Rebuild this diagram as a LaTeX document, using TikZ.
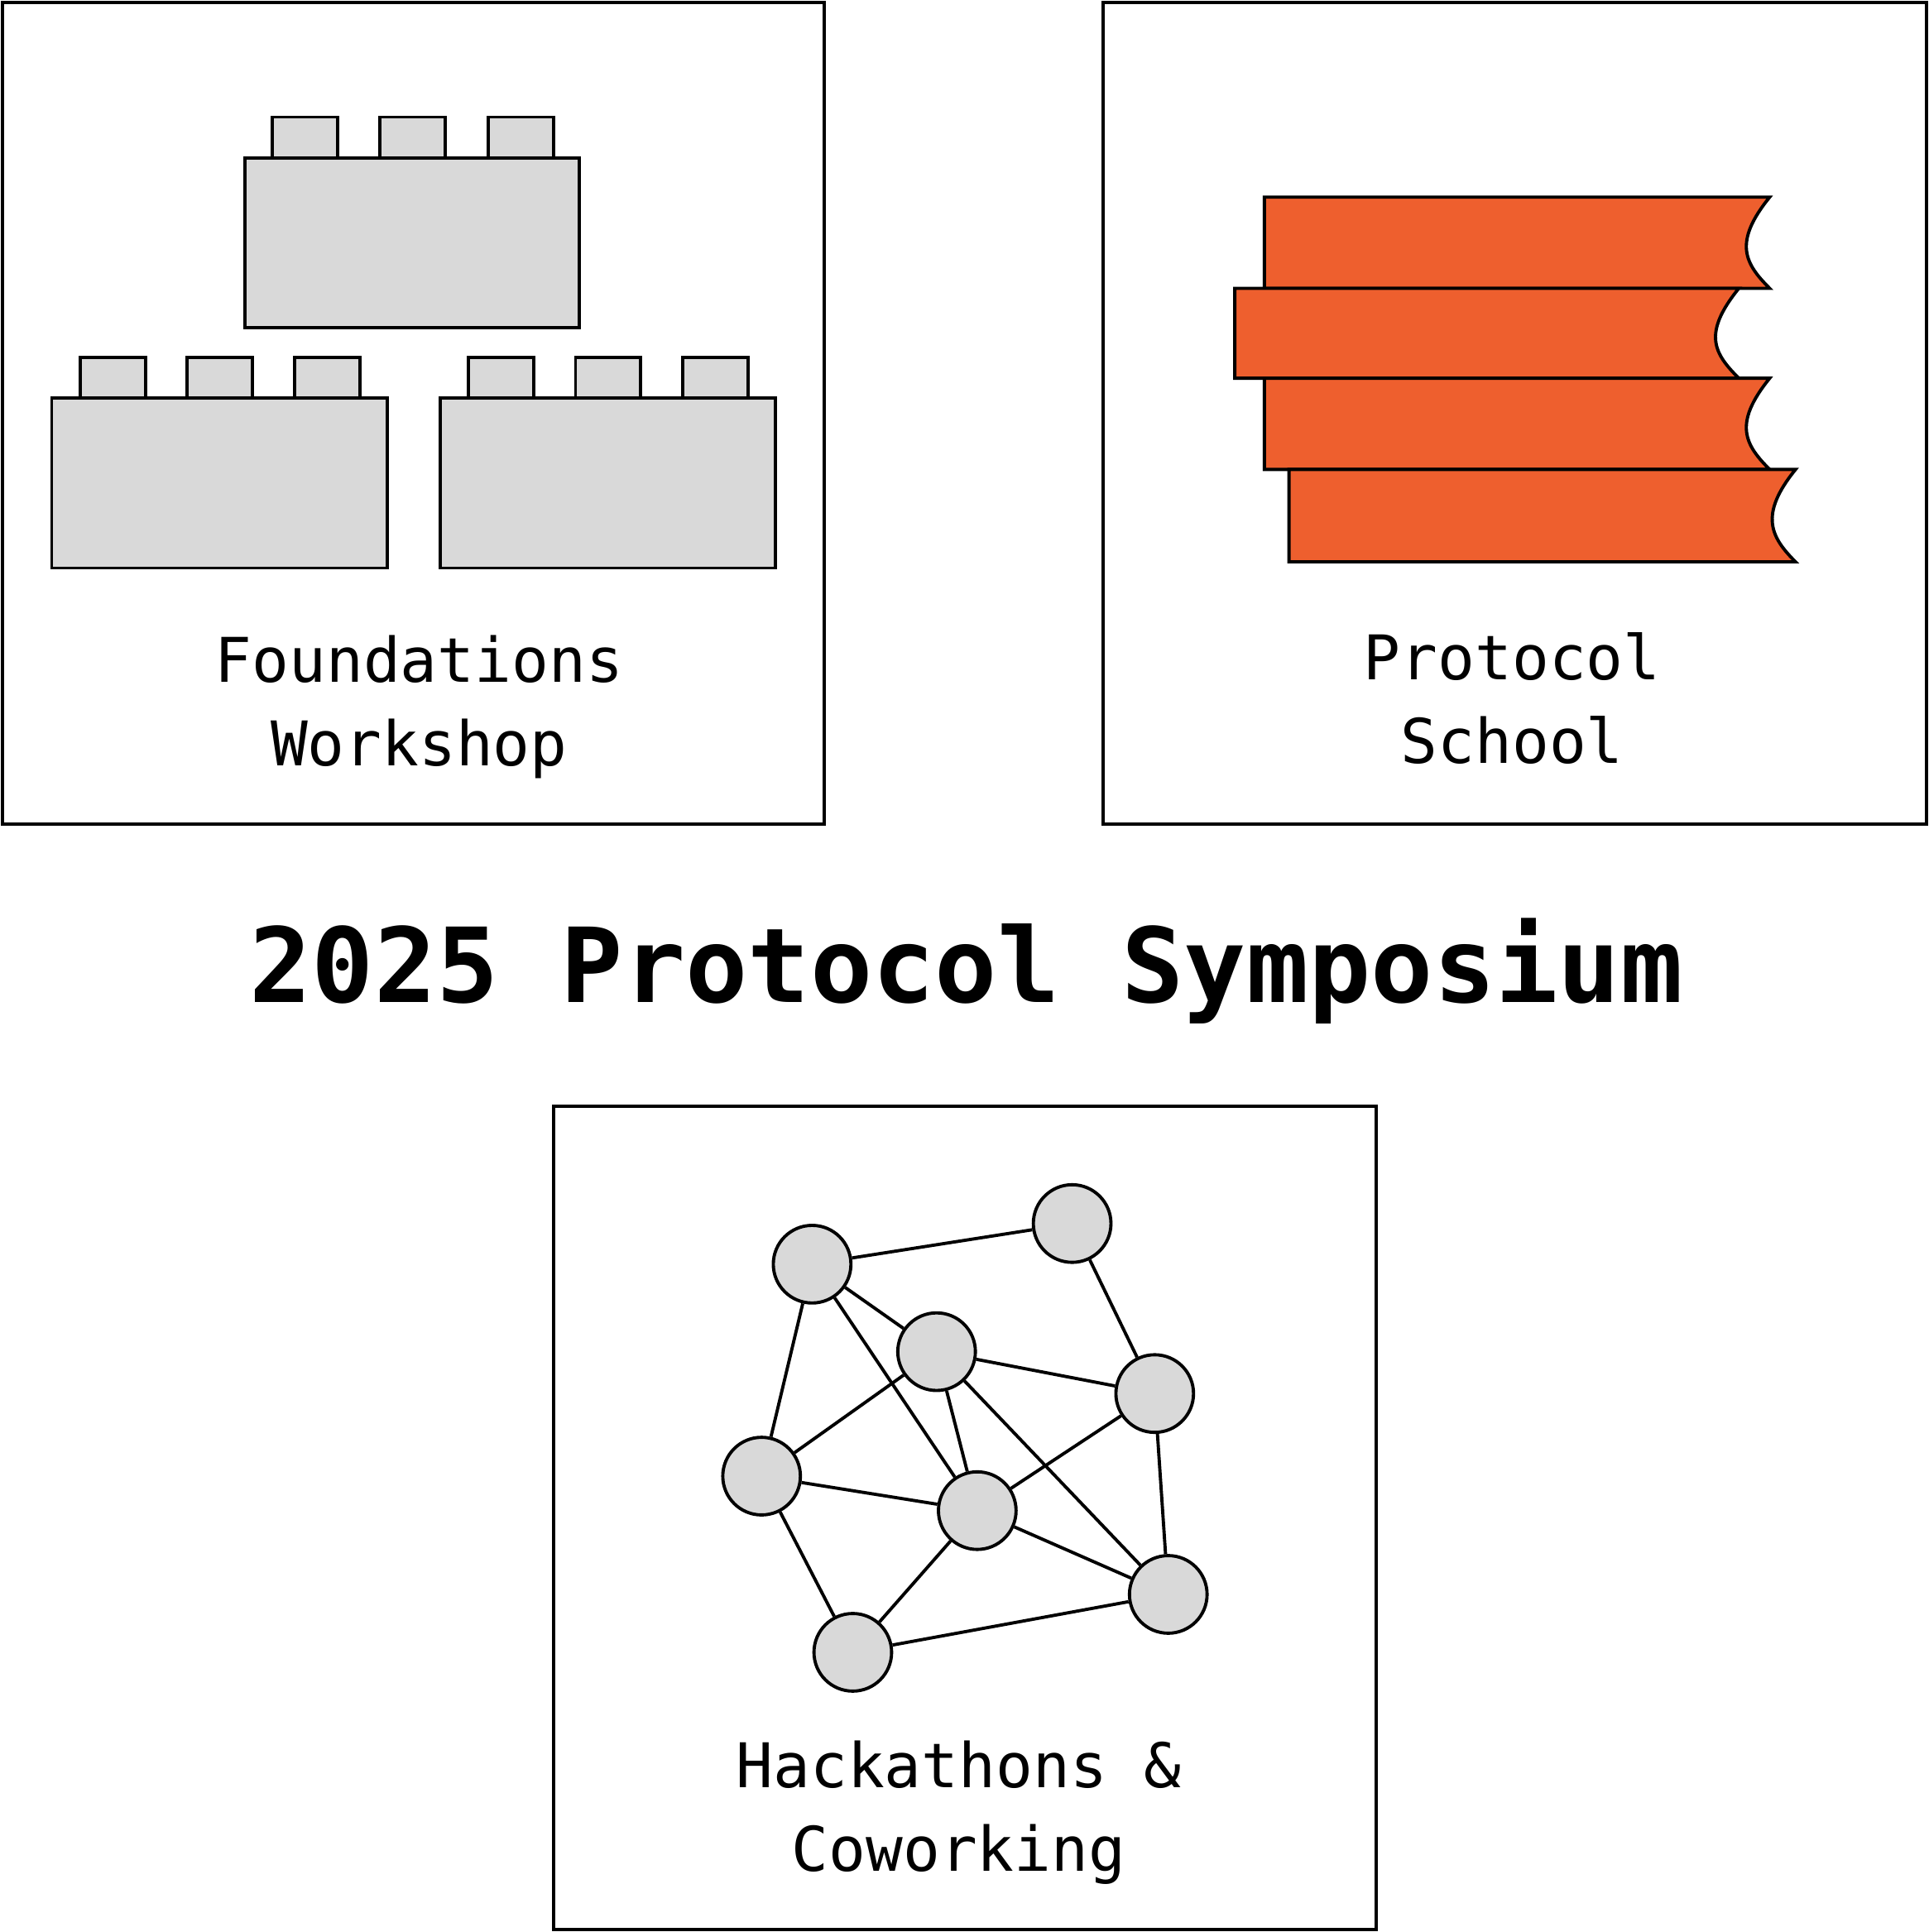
\documentclass[tikz,border=0pt]{standalone}
\usepackage{fontspec}
\setmonofont{DejaVu Sans Mono}
\definecolor{brick}{HTML}{D9D9D9}
\definecolor{book}{HTML}{EE5F2E}
\begin{document}
\begin{tikzpicture}[x=1pt,y=-1pt,line width=2.6pt,
  frame/.style={draw,black},
  piece/.style={draw,fill=brick},
  bk/.style={draw,fill=book,line join=miter},
  gn/.style={circle,draw,fill=brick,minimum size=63pt,inner sep=0pt},
  lbl/.style={font=\ttfamily\fontsize{50}{68}\selectfont,align=center},
  ttl/.style={font=\ttfamily\bfseries\fontsize{84}{90}\selectfont}]
\useasboundingbox (0,0) rectangle (1565,1568);
\draw[frame] (2,2) rectangle (669,669);
\draw[frame] (895,2) rectangle (1563,669);
\draw[frame] (449,898) rectangle (1117,1566);
% lego
\foreach \x in {221,308,396} \draw[piece] (\x,95) rectangle ++(53,33);
\draw[piece] (199,128) rectangle (470,266);
\foreach \x in {65,152,239,380,467,554} \draw[piece] (\x,290) rectangle ++(53,33);
\draw[piece] (42,323) rectangle (314,461);
\draw[piece] (357,323) rectangle (629,461);
\node[lbl] (fw) at (340,574) {Foundations\\Workshop};
% books
\foreach \l/\r/\t/\b in {1026/1436/160/234, 1002/1411/234/307, 1026/1436/307/381, 1046/1457/381/456}
  \draw[bk] (\l,\t) -- (\r,\t) .. controls (\r-30,\t+37) and (\r-20,\b-20) .. (\r,\b) -- (\l,\b) -- cycle;
\node[lbl] (ps) at (1227,567) {Protocol\\School};
\node[ttl] (title) at (784,788) {2025 Protocol Symposium};
% graph
\node[gn] (A) at (659,1026) {};
\node[gn] (B) at (870,993) {};
\node[gn] (C) at (760,1097) {};
\node[gn] (D) at (937,1131) {};
\node[gn] (E) at (618,1198) {};
\node[gn] (F) at (793,1226) {};
\node[gn] (G) at (948,1294) {};
\node[gn] (H) at (692,1341) {};
\foreach \a/\b in {A/B,A/C,A/F,A/E,B/D,C/D,C/E,C/F,C/G,D/F,D/G,E/F,E/H,F/G,F/H,H/G}
  \draw (\a) -- (\b);
\node[lbl] (hc) at (778,1471) {Hackathons \&\\Coworking};
\end{tikzpicture}
\end{document}
